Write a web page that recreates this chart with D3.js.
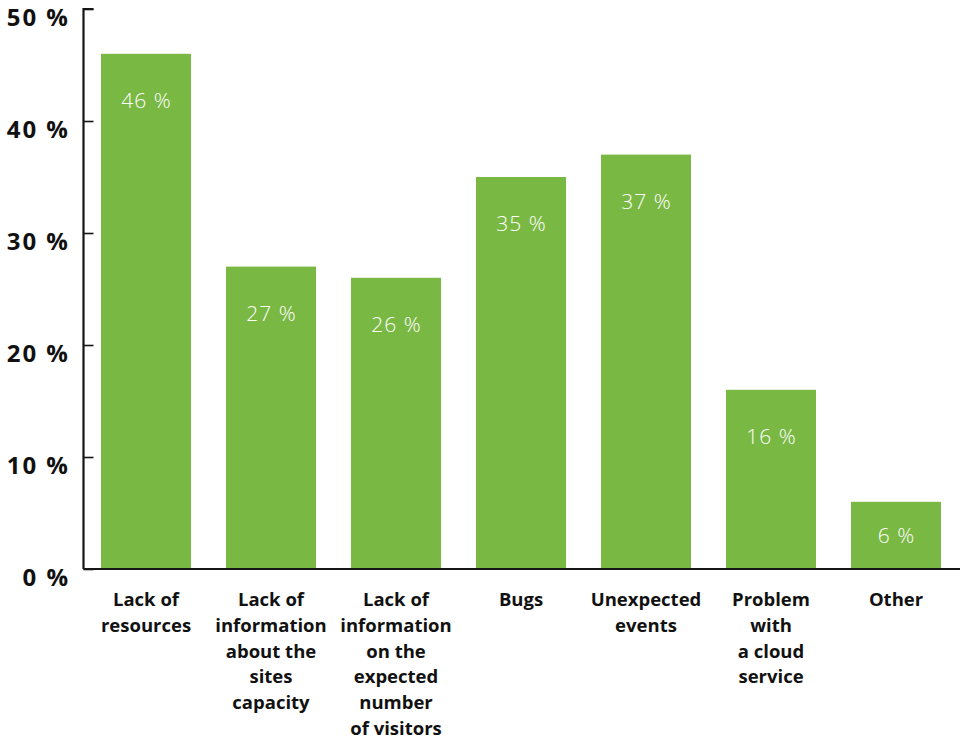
<!DOCTYPE html>
<html>
<head>
<meta charset="utf-8">
<script src="https://cdn.jsdelivr.net/npm/d3@7"></script>
<style>
	body { margin: 0; background: #fff; }
	svg text { font-family: "Open Sans", Lato, sans-serif; }
	.tick-label { font-size: 24px; font-weight: 700; fill: #111; letter-spacing: 2px; }
	.cat-label { font-size: 18.5px; font-weight: 700; fill: #111; }
	.val-label { font-size: 21px; font-weight: 300; fill: #fff; letter-spacing: 1px; }
</style>
</head>
<body>
<svg id="chart" width="960" height="741"></svg>
<script>
// data
var categories = ["resources", "capacity", "visitors", "bugs", "events", "cloud", "other"]
var labels = [
	["Lack of", "resources"],
	["Lack of", "information", "about the", "sites", "capacity"],
	["Lack of", "information", "on the", "expected", "number", "of visitors"],
	["Bugs"],
	["Unexpected", "events"],
	["Problem", "with", "a cloud", "service"],
	["Other"]
]
var values = [46, 27, 26, 35, 37, 16, 6]
var yTicks = [0, 10, 20, 30, 40, 50]

var GREEN = "#7ab844"
var INK = "#161616"

var svg = d3.select("#chart")

var x = d3.scaleBand()
	.domain(categories)
	.range([83.5, 958.5])
	.paddingInner(0.28)
	.paddingOuter(0.14)

var y = d3.scaleLinear()
	.domain([0, 50])
	.range([569, 9])

// bars
svg.selectAll(".bar")
	.data(values)
	.enter()
	.append("rect")
	.attr("class", "bar")
	.attr("x", function(d, i){ return x(categories[i]) })
	.attr("width", x.bandwidth())
	.attr("y", function(d){ return y(d) })
	.attr("height", function(d){ return y(0) - y(d) })
	.attr("fill", GREEN)

// value labels inside bars
svg.selectAll(".val-label")
	.data(values)
	.enter()
	.append("text")
	.attr("class", "val-label")
	.attr("text-anchor", "middle")
	.attr("dominant-baseline", "central")
	.attr("x", function(d, i){ return x(categories[i]) + x.bandwidth() / 2 + 0.5 })
	.attr("y", function(d){
		var h = y(0) - y(d)
		return y(d) + Math.min(46, h / 2)
	})
	.text(function(d){ return d + " %" })

// y axis
var yAxis = d3.axisRight(y)
	.tickValues(yTicks)
	.tickSize(10)
	.tickFormat("")

var gy = svg.append("g")
	.attr("transform", "translate(83.5,0)")
	.call(yAxis)
gy.select(".domain")
	.attr("d", "M10,9H0V569")
	.attr("stroke", INK)
	.attr("stroke-width", 2.2)
gy.selectAll(".tick line")
	.attr("stroke", INK)
	.attr("stroke-width", 1.6)

svg.selectAll(".tick-label")
	.data(yTicks)
	.enter()
	.append("text")
	.attr("class", "tick-label")
	.attr("text-anchor", "end")
	.attr("dominant-baseline", "central")
	.attr("x", 70)
	.attr("y", function(d){ return y(d) + 7 })
	.text(function(d){ return d + " %" })

// baseline
svg.append("line")
	.attr("x1", 83.5)
	.attr("x2", 960)
	.attr("y1", y(0))
	.attr("y2", y(0))
	.attr("stroke", INK)
	.attr("stroke-width", 2.2)

// category labels
var cat = svg.selectAll(".cat-label")
	.data(labels)
	.enter()
	.append("text")
	.attr("class", "cat-label")
	.attr("text-anchor", "middle")
	.attr("transform", function(d, i){
		return "translate(" + (x(categories[i]) + x.bandwidth() / 2) + ",606)"
	})

cat.selectAll("tspan")
	.data(function(d){ return d })
	.enter()
	.append("tspan")
	.attr("x", 0)
	.attr("y", function(d, i){ return i * 25.8 })
	.text(function(d){ return d })
</script>
</body>
</html>
